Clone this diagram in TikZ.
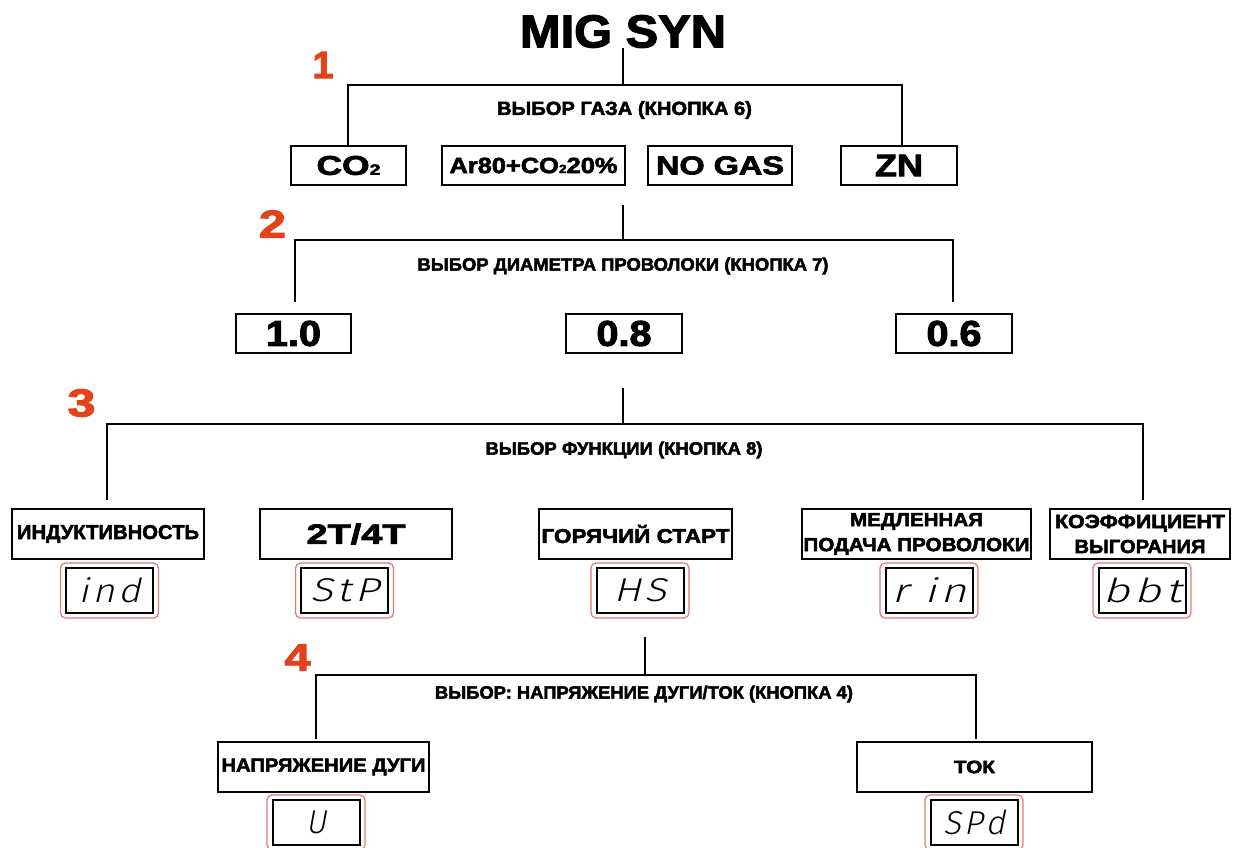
\documentclass[tikz,border=0pt]{standalone}
\usepackage{fontspec}
\usepackage{graphicx}
\setmainfont{Liberation Sans}
\newfontfamily\heavy{Liberation Sans}[BoldFeatures={FakeBold=2.5}]
\newfontfamily\lcdfont{Fira Sans Light}[FakeSlant=0.2]
\definecolor{numred}{HTML}{E3421B}
\definecolor{lcdred}{HTML}{E07878}
\newcommand\fw[3]{\resizebox{#1pt}{\height}{\fontsize{#2pt}{#2pt}\selectfont #3}}
\begin{document}
\begin{tikzpicture}[x=1pt,y=-1pt,
  conn/.style={line width=2pt, black},
  box/.style={draw, line width=1.8pt, inner sep=0pt, font=\heavy\bfseries, align=center},
  lbl/.style={inner sep=0pt, font=\heavy\bfseries},
  num/.style={inner sep=0pt, text=numred, font=\heavy\bfseries},
  lcdout/.style={draw=lcdred, line width=1.2pt, rounded corners=5pt, minimum width=98pt, minimum height=55pt, inner sep=0pt},
  lcdin/.style={draw, line width=2pt, minimum width=87pt, minimum height=45pt, inner sep=0pt, font=\lcdfont},
]
\useasboundingbox (0,0) rectangle (1247,847);
\fill[white] (0,0) rectangle (1247,847);

% title and step numbers
\node[inner sep=0pt, font=\heavy\bfseries] (title) at (623,31.5) {\fw{206}{46}{MIG SYN}};
\node[num] (n1) at (323,65) {\fw{21}{38}{1}};
\node[num] (n2) at (272.5,224) {\fw{27}{39}{2}};
\node[num] (n3) at (81.5,403) {\fw{28}{39}{3}};
\node[num] (n4) at (297.5,657.5) {\fw{26}{38}{4}};

% section labels
\node[lbl] (lab1) at (624.5,110) {\fw{255}{19}{ВЫБОР ГАЗА (КНОПКА 6)}};
\node[lbl] (lab2) at (623,266) {\fw{411}{18}{ВЫБОР ДИАМЕТРА ПРОВОЛОКИ (КНОПКА 7)}};
\node[lbl] (lab3) at (624,450) {\fw{277}{18}{ВЫБОР ФУНКЦИИ (КНОПКА 8)}};
\node[lbl] (lab4) at (644,694) {\fw{418}{18}{ВЫБОР: НАПРЯЖЕНИЕ ДУГИ/ТОК (КНОПКА 4)}};

% row 1
\node[box, minimum width=115pt, minimum height=39pt] (co2) at (348.5,165.5) {\fw{64}{27}{CO{\fontsize{15pt}{15pt}\selectfont 2}}};
\node[box, minimum width=183pt, minimum height=39pt] (ar) at (533.5,165.5) {\fw{168}{22}{Ar80+CO{\fontsize{12pt}{12pt}\selectfont 2}20\%}};
\node[box, minimum width=144pt, minimum height=39pt] (nogas) at (720,165.5) {\fw{128}{26}{NO GAS}};
\node[box, minimum width=116pt, minimum height=39pt] (zn) at (899,165.5) {\fw{48}{31}{ZN}};

% row 2
\node[box, minimum width=115pt, minimum height=39pt] (d10) at (293.5,333.5) {\fw{55}{36}{1.0}};
\node[box, minimum width=116pt, minimum height=39pt] (d08) at (624,333.5) {\fw{55}{36}{0.8}};
\node[box, minimum width=116pt, minimum height=39pt] (d06) at (954,333.5) {\fw{55}{36}{0.6}};

% row 3
\node[box, minimum width=192pt, minimum height=50pt] (ind) at (108,534) {\fw{182}{20}{ИНДУКТИВНОСТЬ}};
\node[box, minimum width=192pt, minimum height=50pt] (t24) at (356,534) {\fw{99}{28}{2T/4T}};
\node[box, minimum width=193pt, minimum height=50pt] (hs) at (635.5,534) {\fw{188}{20}{ГОРЯЧИЙ СТАРТ}};
\node[box, minimum width=229pt, minimum height=50pt, font=\heavy\bfseries\fontsize{19pt}{25pt}\selectfont] (slow) at (916.5,534) {\fw{133}{19}{МЕДЛЕННАЯ}\\\fw{226}{19}{ПОДАЧА ПРОВОЛОКИ}};
\node[box, minimum width=180pt, minimum height=50pt, font=\heavy\bfseries\fontsize{19pt}{25pt}\selectfont] (burn) at (1140,534) {\fw{170}{19}{КОЭФФИЦИЕНТ}\\\fw{131}{19}{ВЫГОРАНИЯ}};

% row 3 displays
\node[lcdout] (indo) at (109.5,590.5) {};
\node[lcdin] (indi) at (109.5,590.5) {\fw{62}{33}{i\kern3pt n\kern3pt d}};
\node[lcdout] (stpo) at (344.5,590.5) {};
\node[lcdin] (stpi) at (344.5,590.5) {\fw{69}{33}{S\kern3pt t\kern3pt P}};
\node[lcdout] (hso) at (640,590.5) {};
\node[lcdin] (hsi) at (640,590.5) {\fw{53}{33}{H\kern3pt S}};
\node[lcdout] (rino) at (929,590.5) {};
\node[lcdin] (rini) at (929,590.5) {\fw{75}{33}{r\kern12pt i\kern3pt n}};
\node[lcdout] (bbto) at (1142,590.5) {};
\node[lcdin] (bbti) at (1142,590.5) {\fw{79}{33}{b\kern3pt b\kern3pt t}};

% row 4
\node[box, minimum width=211pt, minimum height=50pt] (arcv) at (323.5,767) {\fw{204}{19}{НАПРЯЖЕНИЕ ДУГИ}};
\node[box, minimum width=235pt, minimum height=50pt] (tok) at (974.5,767) {\fw{41}{18}{ТОК}};
\node[lcdout] (uo) at (316,822.5) {};
\node[lcdin] (ui) at (316,822.5) {\fw{20}{33}{U}};
\node[lcdout] (spdo) at (974,822.5) {};
\node[lcdin] (spdi) at (974,822.5) {\fw{62}{33}{S\kern3pt P\kern3pt d}};

% connectors, step 1
\coordinate (b1l) at (348,85);
\coordinate (b1m) at (623,85);
\coordinate (b1r) at (902,85);
\draw[conn] (title.south) -- (b1m);
\draw[conn] (co2.north -| b1l) -- (b1l) -- (b1r) -- (b1r |- zn.north);

% step 2
\coordinate (s2a) at (623,205);
\coordinate (b2m) at (623,240);
\coordinate (b2l) at (295,240);
\coordinate (b2r) at (953,240);
\coordinate (e2l) at (295,302);
\coordinate (e2r) at (953,302);
\draw[conn] (s2a) -- (b2m);
\draw[conn] (e2l) -- (b2l) -- (b2r) -- (e2r);

% step 3
\coordinate (s3a) at (623,388);
\coordinate (b3m) at (623,424);
\coordinate (b3l) at (107,424);
\coordinate (b3r) at (1143,424);
\coordinate (e3l) at (107,500);
\coordinate (e3r) at (1143,500);
\draw[conn] (s3a) -- (b3m);
\draw[conn] (e3l) -- (b3l) -- (b3r) -- (e3r);

% step 4
\coordinate (s4a) at (645,637);
\coordinate (b4m) at (645,675);
\coordinate (b4l) at (316,675);
\coordinate (b4r) at (976,675);
\coordinate (e4l) at (316,739);
\coordinate (e4r) at (976,739);
\draw[conn] (s4a) -- (b4m);
\draw[conn] (e4l) -- (b4l) -- (b4r) -- (e4r);
\end{tikzpicture}
\end{document}
